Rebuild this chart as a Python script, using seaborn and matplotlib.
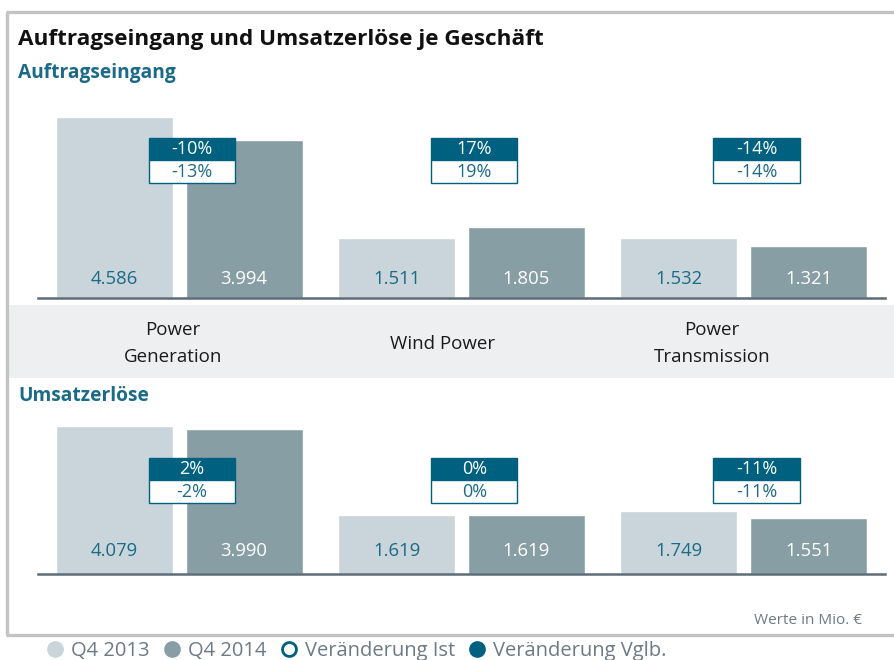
import pandas as pd
import seaborn as sns
import matplotlib.pyplot as plt
import matplotlib.transforms as mtransforms
from matplotlib.patches import Rectangle
from matplotlib.lines import Line2D

# Data
segments = ["Power\nGeneration", "Wind Power", "Power\nTransmission"]
periods = ["Q4 2013", "Q4 2014"]
orders_2013 = [4586, 1511, 1532]
orders_2014 = [3994, 1805, 1321]
revenue_2013 = [4079, 1619, 1749]
revenue_2014 = [3990, 1619, 1551]
# filled row = Veränderung Vglb., hollow row = Veränderung Ist
orders_chg_vglb = ["-10%", "17%", "-14%"]
orders_chg_ist = ["-13%", "19%", "-14%"]
revenue_chg_vglb = ["2%", "0%", "-11%"]
revenue_chg_ist = ["-2%", "0%", "-11%"]

LIGHT = "#c9d5da"
DARK = "#889ea5"
TEAL = "#00607f"
TEAL_TXT = "#1a6a88"
AXIS = "#5d6c78"
GREY_TXT = "#6b7a85"

sns.set_style("white")
plt.rcParams['font.family'] = ['Open Sans', 'DejaVu Sans']

fig = plt.figure(figsize=(8.95, 6.6), dpi=100)
W, H = 895, 660


def fx(px):
    return px / W


def fy(py):
    return 1 - py / H


# outer frame (left, top, bottom)
frame = dict(color="#c3c3c3", lw=2.4, transform=fig.transFigure, solid_capstyle="butt")
fig.add_artist(Line2D([fx(7), fx(7)], [fy(12), fy(635)], **frame))
fig.add_artist(Line2D([fx(6), 1], [fy(12), fy(12)], **frame))
fig.add_artist(Line2D([fx(6), 1], [fy(635), fy(635)], **frame))

# grey category band
fig.add_artist(Rectangle((fx(8), fy(378)), 1 - fx(8), (378 - 305) / H,
                         transform=fig.transFigure, color="#eeeff0", lw=0, zorder=0))

fig.text(fx(18), fy(40), "Auftragseingang und Umsatzerlöse je Geschäft",
         fontsize=16.2, fontweight="bold", color="#111111", va="center")
fig.text(fx(18), fy(73), "Auftragseingang", fontsize=13.8, fontweight="bold",
         color=TEAL_TXT, va="center")
fig.text(fx(18), fy(396), "Umsatzerlöse", fontsize=13.8, fontweight="bold",
         color=TEAL_TXT, va="center")
fig.text(fx(862), fy(621), "Werte in Mio. €", fontsize=11, color=GREY_TXT,
         ha="right", va="center")


def draw_panel(rect, ymax, v13, v14, chg_vglb, chg_ist, box_top, label_off, show_labels):
    ax = fig.add_axes(rect)
    df = pd.DataFrame({
        "segment": segments * 2,
        "period": [periods[0]] * 3 + [periods[1]] * 3,
        "value": v13 + v14,
    })
    sns.barplot(data=df, x="segment", y="value", hue="period", order=segments,
                hue_order=periods, palette=[LIGHT, DARK], width=0.92, gap=0.1,
                saturation=1, legend=False, ax=ax, zorder=2)
    ax.set_xlim(-0.5, 2.5)
    ax.set_ylim(0, ymax)
    ax.set_yticks([])
    ax.set_xlabel("")
    ax.set_ylabel("")
    for s in ["top", "right", "left"]:
        ax.spines[s].set_visible(False)
    ax.spines["bottom"].set_color(AXIS)
    ax.spines["bottom"].set_linewidth(1.8)
    ax.spines["bottom"].set_zorder(3)
    ax.patch.set_alpha(0)
    ax.set_xticklabels([])
    ax.tick_params(axis="x", length=0)

    if show_labels:
        # category names in the grey band
        trl = mtransforms.blended_transform_factory(ax.transData, fig.transFigure)
        for i, name in enumerate(segments):
            ax.text(i * 0.955 - 0.023, fy(343.5), name, transform=trl, ha="center",
                    va="center", fontsize=13.5, color="#1a1a1a", linespacing=1.6)

    # value labels
    for ci, cont in enumerate(ax.containers):
        col = TEAL_TXT if ci == 0 else "white"
        for bar in cont:
            ax.annotate(f"{int(bar.get_height()):,}".replace(",", "."),
                        (bar.get_x() + bar.get_width() / 2, 0),
                        xytext=(0, label_off), textcoords="offset points",
                        ha="center", va="center", fontsize=13.3, color=col, zorder=4)

    # change boxes
    tr = mtransforms.blended_transform_factory(ax.transData, ax.transAxes)
    bw = 0.305
    row1 = 22 / (rect[3] * H)
    row2 = 23 / (rect[3] * H)
    for i in range(3):
        xc = i + 0.045
        ax.add_patch(Rectangle((xc - bw / 2, box_top - row1), bw, row1, transform=tr,
                               facecolor=TEAL, edgecolor=TEAL, lw=1, zorder=5))
        ax.add_patch(Rectangle((xc - bw / 2, box_top - row1 - row2), bw, row2, transform=tr,
                               facecolor="white", edgecolor=TEAL, lw=1, zorder=5))
        ax.text(xc, box_top - row1 / 2, chg_vglb[i], transform=tr, ha="center", va="center",
                fontsize=13, color="white", zorder=6)
        ax.text(xc, box_top - row1 - row2 / 2, chg_ist[i], transform=tr, ha="center",
                va="center", fontsize=13, color=TEAL_TXT, zorder=6)
    return ax


# top panel: axes from y=100 to y=298 px
draw_panel([fx(38), fy(298), (885 - 38) / W, 198 / H], 5016,
           orders_2013, orders_2014, orders_chg_vglb, orders_chg_ist,
           (298 - 138) / 198, 14, True)
# bottom panel: axes from y=400 to y=574 px
draw_panel([fx(38), fy(574), (885 - 38) / W, 174 / H], 4796,
           revenue_2013, revenue_2014, revenue_chg_vglb, revenue_chg_ist,
           (574 - 458) / 174, 16.5, False)

# legend
handles = [
    Line2D([], [], ls="", marker="o", ms=11, mfc=LIGHT, mec=LIGHT),
    Line2D([], [], ls="", marker="o", ms=11, mfc=DARK, mec=DARK),
    Line2D([], [], ls="", marker="o", ms=10, mfc="white", mec=TEAL, mew=2),
    Line2D([], [], ls="", marker="o", ms=11, mfc=TEAL, mec=TEAL),
]
labels = ["Q4 2013", "Q4 2014", "Veränderung Ist", "Veränderung Vglb."]
fig.legend(handles, labels, loc="center left", bbox_to_anchor=(fx(45), fy(651)),
           ncol=4, frameon=False, fontsize=14.5, labelcolor=GREY_TXT,
           handletextpad=0.3, columnspacing=0.6, handlelength=1.0, borderaxespad=0,
           borderpad=0)

fig.savefig("out.png", dpi=100)
